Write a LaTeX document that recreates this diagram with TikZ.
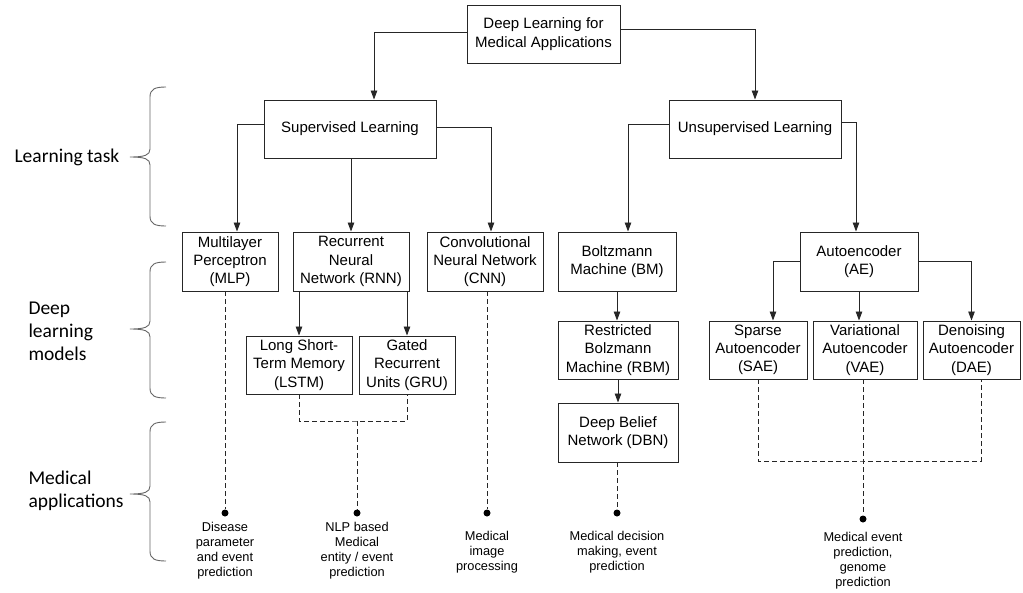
\documentclass[tikz,border=0pt]{standalone}
\usepackage{fontspec}
\setmainfont{Liberation Sans}
\newfontfamily\sidefont{Carlito}
\usetikzlibrary{arrows.meta}

% curly brace opening to the right: top y, tip y, bottom y
\newcommand{\sidebrace}[3]{%
  \draw[brc] (166,#1) .. controls (155,#1) and (150,#1+2) .. (150,#1+10)
    -- (150,#2-8) .. controls (150,#2-2) and (145,#2) .. (130,#2)
    .. controls (145,#2) and (150,#2+2) .. (150,#2+8)
    -- (150,#3-10) .. controls (150,#3-2) and (155,#3) .. (166,#3);}

\begin{document}
\begin{tikzpicture}[x=1pt,y=-1pt,
  box/.style={draw=black!85, line width=0.95pt, inner sep=0pt, align=center,
              font=\fontsize{15}{18.3}\selectfont},
  sz/.style 2 args={minimum width=#1, minimum height=#2},
  arr/.style={draw=black!85, line width=0.9pt, -{Triangle[length=9pt,width=6.5pt]}},
  dsh/.style={draw=black!85, line width=0.9pt, dash pattern=on 5pt off 3pt},
  dot/.style={circle, fill=black, inner sep=0pt, minimum size=7pt},
  app/.style={align=center, font=\fontsize{12.8}{15}\selectfont},
  side/.style={align=left, anchor=west, font=\sidefont\fontsize{19.5}{23}\selectfont},
  brc/.style={draw=black!60, line width=0.9pt}]

\useasboundingbox (0,0) rectangle (1023,592);

% boxes
\node[box, sz={153pt}{58pt}] (top) at (543.5,34) {Deep Learning for\\Medical Applications};
\node[box, sz={172pt}{58pt}] (sup) at (350,129) {Supervised Learning};
\node[box, sz={172pt}{58pt}] (uns) at (755,129) {Unsupervised Learning};

\node[box, sz={96pt}{59pt}]  (mlp) at (230,261.5) {Multilayer\\Perceptron\\(MLP)};
\node[box, sz={116pt}{59pt}] (rnn) at (351,261.5) {Recurrent\\Neural\\Network (RNN)};
\node[box, sz={116pt}{59pt}] (cnn) at (485,261.5) {Convolutional\\Neural Network\\(CNN)};
\node[box, sz={118pt}{59pt}] (bm)  at (617,261.5) {Boltzmann\\Machine (BM)};
\node[box, sz={118pt}{59pt}] (ae)  at (859,261.5) {Autoencoder\\(AE)};

\node[box, sz={106pt}{58pt}] (lstm) at (299,365) {Long Short-\\Term Memory\\(LSTM)};
\node[box, sz={96pt}{58pt}]  (gru)  at (407,365) {Gated\\Recurrent\\Units (GRU)};
\node[box, sz={120pt}{58pt}] (rbm)  at (618,350) {Restricted\\Bolzmann\\Machine (RBM)};
\node[box, sz={120pt}{59pt}] (dbn)  at (618,432.5) {Deep Belief\\Network (DBN)};
\node[box, sz={98pt}{58pt}]  (sae)  at (758,350) {Sparse\\Autoencoder\\(SAE)};
\node[box, sz={104pt}{58pt}] (vae)  at (865,350) {Variational\\Autoencoder\\(VAE)};
\node[box, sz={97pt}{58pt}]  (dae)  at (971.5,350) {Denoising\\Autoencoder\\(DAE)};

% tree connectors
\draw[arr] ([yshift=2pt]top.west) -| ([xshift=24pt]sup.north);
\draw[arr] ([yshift=5pt]top.east) -| (uns.north);
\draw[arr] ([yshift=5pt]sup.west) -| ([xshift=7pt]mlp.north);
\draw[arr] (sup.south -| rnn.north) -- (rnn.north);
\draw[arr] ([yshift=2pt]sup.east) -| ([xshift=6pt]cnn.north);
\draw[arr] ([yshift=5pt]uns.west) -| ([xshift=11pt]bm.north);
\draw[arr] ([yshift=7pt]uns.east) -| ([xshift=-3pt]ae.north);
\draw[arr] (rnn.south -| lstm.north) -- (lstm.north);
\draw[arr] (rnn.south -| gru.north) -- (gru.north);
\draw[arr] (bm.south) -- (bm.south |- rbm.north);
\draw[arr] (rbm.south) -- (dbn.north);
\draw[arr] (ae.west) -| ([xshift=15pt]sae.north);
\draw[arr] (ae.south) -- (ae.south |- vae.north);
\draw[arr] (ae.east) -| (dae.north);

% application end points
\node[dot] (d1) at (225,513) {};
\node[dot] (d2) at (357,513) {};
\node[dot] (d3) at (487,513) {};
\node[dot] (d4) at (617,513) {};
\node[dot] (d5) at (863,519) {};
\coordinate (j1) at (357,421);
\coordinate (j2) at (863,461);

% dashed links to applications
\draw[dsh] (mlp.south -| d1) -- (d1);
\draw[dsh] (lstm.south) |- (j1) -| (gru.south);
\draw[dsh] (j1) -- (d2);
\draw[dsh] (cnn.south -| d3) -- (d3);
\draw[dsh] (dbn.south -| d4) -- (d4);
\draw[dsh] (sae.south) |- (j2) -| ([xshift=10pt]dae.south);
\draw[dsh] (vae.south -| d5) -- (d5);

% application texts
\node[app] (t1) at (225,551) {Disease\\parameter\\and event\\prediction};
\node[app] (t2) at (357,551) {NLP based\\Medical\\entity / event\\prediction};
\node[app] (t3) at (487,552) {Medical\\image\\processing};
\node[app] (t4) at (617,552) {Medical decision\\making, event\\prediction};
\node[app] (t5) at (863,561) {Medical event\\prediction,\\genome\\prediction};

% level braces and labels
\sidebrace{87}{157}{226}
\sidebrace{262}{329}{398}
\sidebrace{422}{494}{561}
\node[side] (lt) at (11,157) {Learning task};
\node[side] (dl) at (25,331) {Deep\\learning\\models};
\node[side] (ma) at (25,491) {Medical\\applications};
\end{tikzpicture}
\end{document}
